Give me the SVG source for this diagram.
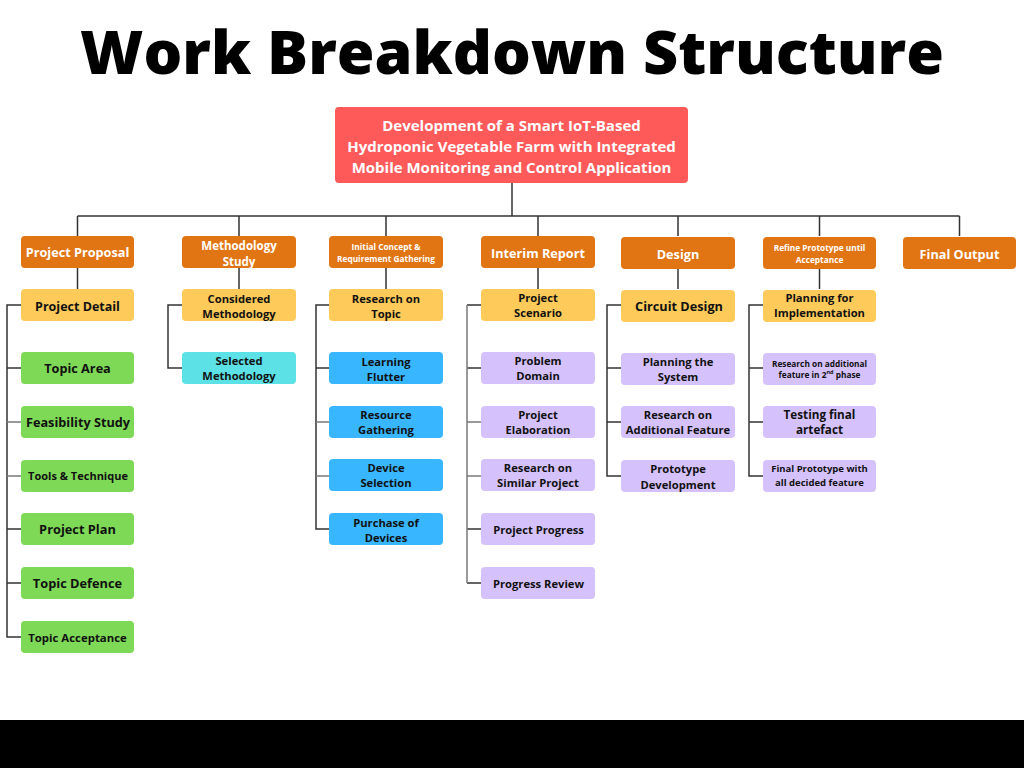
<svg xmlns="http://www.w3.org/2000/svg" width="1024" height="768" viewBox="0 0 1024 768">
<style>
.t{font-family:"Open Sans","Liberation Sans",sans-serif;font-weight:700;text-anchor:middle;dominant-baseline:central}
.w{fill:#ffffff}
.k{fill:#111111}
.or{fill:#e27513}
.ye{fill:#fecb5a}
.gr{fill:#7ed957}
.cy{fill:#5ce1e6}
.bl{fill:#38b6ff}
.lv{fill:#d5c2fc}
.c{fill:none;stroke:#333333;stroke-width:1.5}
.g{fill:none;stroke:#7a7a7a;stroke-width:1.5}
</style>
<rect x="0" y="0" width="1024" height="768" fill="#ffffff"/>
<text x="512" y="50" class="t" style="font-size:61px;font-weight:800;fill:#000">Work Breakdown Structure</text>
<rect x="0" y="720" width="1024" height="48" fill="#000000"/>

<g id="connectors">
<path class="c" d="M512 183V216M77.5 216H959.5M77.5 216V236M239 216V236M386 216V236M538 216V236M678 216V236M819.5 216V236M959.5 216V236"/>
<path class="c" d="M77.5 268V289M239 268V289M386 268V289M538 268V289M678 268V289M819.5 268V289"/>
<path class="c" d="M21 305H7V637H21M7 368H21M7 529H21M7 583H21"/>
<path class="g" d="M7 422H21M7 476H21"/>
<path class="c" d="M182 305H168V368H182"/>
<path class="c" d="M329 305H316V529H329M316 368H329"/>
<path class="g" d="M316 422H329M316 476H329"/>
<path class="c" d="M481 305H467M467 583H481M467 368H481M467 529H481"/>
<path class="g" d="M467 305V583M467 422H481M467 476H481"/>
<path class="c" d="M621 305H607V476H621M607 368H621M607 422H621"/>
<path class="c" d="M763 305H749V476H763M749 368H763M749 422H763"/>
</g>

<g id="root">
<rect x="335" y="107" width="353" height="76" rx="4" fill="#ff5a5a"/>
<text class="t w" x="511.5" y="125" style="font-size:15px">Development of a Smart IoT-Based</text>
<text class="t w" x="511.5" y="146" style="font-size:15px">Hydroponic Vegetable Farm with Integrated</text>
<text class="t w" x="511.5" y="167" style="font-size:15px">Mobile Monitoring and Control Application</text>
</g>

<g id="project-proposal">
<rect class="or" x="21" y="236" width="113" height="32" rx="4"/>
<text class="t w" x="77.5" y="252" style="font-size:12.7px">Project Proposal</text>
</g>
<g id="methodology-study">
<rect class="or" x="182" y="236" width="114" height="32" rx="4"/>
<text class="t w" x="239" y="245" style="font-size:11.5px">Methodology</text>
<text class="t w" x="239" y="261" style="font-size:11.5px">Study</text>
</g>
<g id="initial-concept">
<rect class="or" x="329" y="236" width="114" height="32" rx="4"/>
<text class="t w" x="386" y="246" style="font-size:8.3px">Initial Concept &amp;</text>
<text class="t w" x="386" y="258" style="font-size:8.3px">Requirement Gathering</text>
</g>
<g id="interim-report">
<rect class="or" x="481" y="236" width="114" height="32" rx="4"/>
<text class="t w" x="538" y="253" style="font-size:12.7px">Interim Report</text>
</g>
<g id="design">
<rect class="or" x="621" y="237" width="114" height="32" rx="4"/>
<text class="t w" x="678" y="254" style="font-size:12.7px">Design</text>
</g>
<g id="refine-prototype">
<rect class="or" x="763" y="237" width="113" height="32" rx="4"/>
<text class="t w" x="819.5" y="247" style="font-size:8.3px">Refine Prototype until</text>
<text class="t w" x="819.5" y="259" style="font-size:8.3px">Acceptance</text>
</g>
<g id="final-output">
<rect class="or" x="903" y="237" width="113" height="32" rx="4"/>
<text class="t w" x="959.5" y="254" style="font-size:12.7px">Final Output</text>
</g>

<g id="project-detail">
<rect class="ye" x="21" y="289" width="113" height="32" rx="4"/>
<text class="t k" x="77.5" y="306" style="font-size:12.5px">Project Detail</text>
</g>
<g id="topic-area">
<rect class="gr" x="21" y="352" width="113" height="32" rx="4"/>
<text class="t k" x="77.5" y="368" style="font-size:12.7px">Topic Area</text>
</g>
<g id="feasibility-study">
<rect class="gr" x="21" y="406" width="113" height="32" rx="4"/>
<text class="t k" x="78" y="422" style="font-size:12.7px">Feasibility Study</text>
</g>
<g id="tools-technique">
<rect class="gr" x="21" y="460" width="113" height="32" rx="4"/>
<text class="t k" x="78" y="475" style="font-size:11px">Tools &amp; Technique</text>
</g>
<g id="project-plan">
<rect class="gr" x="21" y="513" width="113" height="32" rx="4"/>
<text class="t k" x="77.5" y="529" style="font-size:12.8px">Project Plan</text>
</g>
<g id="topic-defence">
<rect class="gr" x="21" y="567" width="113" height="32" rx="4"/>
<text class="t k" x="77.5" y="583" style="font-size:12.8px">Topic Defence</text>
</g>
<g id="topic-acceptance">
<rect class="gr" x="21" y="621" width="113" height="32" rx="4"/>
<text class="t k" x="77.5" y="637" style="font-size:11.4px">Topic Acceptance</text>
</g>

<g id="considered-methodology">
<rect class="ye" x="182" y="289" width="114" height="32" rx="4"/>
<text class="t k" x="239" y="298" style="font-size:11.2px">Considered</text>
<text class="t k" x="239" y="313" style="font-size:11.2px">Methodology</text>
</g>
<g id="selected-methodology">
<rect class="cy" x="182" y="352" width="114" height="32" rx="4"/>
<text class="t k" x="239" y="360" style="font-size:11.2px">Selected</text>
<text class="t k" x="239" y="375" style="font-size:11.2px">Methodology</text>
</g>

<g id="research-on-topic">
<rect class="ye" x="329" y="289" width="114" height="32" rx="4"/>
<text class="t k" x="386" y="298" style="font-size:11.2px">Research on</text>
<text class="t k" x="386" y="313" style="font-size:11.2px">Topic</text>
</g>
<g id="learning-flutter">
<rect class="bl" x="329" y="352" width="114" height="32" rx="4"/>
<text class="t k" x="386" y="361" style="font-size:11.2px">Learning</text>
<text class="t k" x="386" y="376" style="font-size:11.2px">Flutter</text>
</g>
<g id="resource-gathering">
<rect class="bl" x="329" y="406" width="114" height="32" rx="4"/>
<text class="t k" x="386" y="414" style="font-size:11.2px">Resource</text>
<text class="t k" x="386" y="429" style="font-size:11.2px">Gathering</text>
</g>
<g id="device-selection">
<rect class="bl" x="329" y="459" width="114" height="32" rx="4"/>
<text class="t k" x="386" y="467" style="font-size:11.2px">Device</text>
<text class="t k" x="386" y="482" style="font-size:11.2px">Selection</text>
</g>
<g id="purchase-devices">
<rect class="bl" x="329" y="513" width="114" height="32" rx="4"/>
<text class="t k" x="386" y="522" style="font-size:11.2px">Purchase of</text>
<text class="t k" x="386" y="537" style="font-size:11.2px">Devices</text>
</g>

<g id="project-scenario">
<rect class="ye" x="481" y="289" width="114" height="32" rx="4"/>
<text class="t k" x="538" y="297" style="font-size:11.2px">Project</text>
<text class="t k" x="538" y="312" style="font-size:11.2px">Scenario</text>
</g>
<g id="problem-domain">
<rect class="lv" x="481" y="352" width="114" height="32" rx="4"/>
<text class="t k" x="538" y="360" style="font-size:11.2px">Problem</text>
<text class="t k" x="538" y="375" style="font-size:11.2px">Domain</text>
</g>
<g id="project-elaboration">
<rect class="lv" x="481" y="406" width="114" height="32" rx="4"/>
<text class="t k" x="538" y="414" style="font-size:11.2px">Project</text>
<text class="t k" x="538" y="429" style="font-size:11.2px">Elaboration</text>
</g>
<g id="research-similar">
<rect class="lv" x="481" y="459" width="114" height="32" rx="4"/>
<text class="t k" x="538" y="467" style="font-size:11.2px">Research on</text>
<text class="t k" x="538" y="482" style="font-size:11.2px">Similar Project</text>
</g>
<g id="project-progress">
<rect class="lv" x="481" y="513" width="114" height="32" rx="4"/>
<text class="t k" x="538.5" y="529" style="font-size:11.2px">Project Progress</text>
</g>
<g id="progress-review">
<rect class="lv" x="481" y="567" width="114" height="32" rx="4"/>
<text class="t k" x="538.5" y="583" style="font-size:11.2px">Progress Review</text>
</g>

<g id="circuit-design">
<rect class="ye" x="621" y="290" width="114" height="32" rx="4"/>
<text class="t k" x="679" y="306" style="font-size:12.7px">Circuit Design</text>
</g>
<g id="planning-system">
<rect class="lv" x="621" y="353" width="114" height="32" rx="4"/>
<text class="t k" x="678" y="361" style="font-size:11.2px">Planning the</text>
<text class="t k" x="678" y="376" style="font-size:11.2px">System</text>
</g>
<g id="research-additional">
<rect class="lv" x="621" y="406" width="114" height="32" rx="4"/>
<text class="t k" x="678" y="414" style="font-size:11.2px">Research on</text>
<text class="t k" x="678" y="429" style="font-size:11.2px">Additional Feature</text>
</g>
<g id="prototype-development">
<rect class="lv" x="621" y="460" width="114" height="32" rx="4"/>
<text class="t k" x="678" y="468" style="font-size:11.2px">Prototype</text>
<text class="t k" x="678" y="484" style="font-size:11.2px">Development</text>
</g>

<g id="planning-implementation">
<rect class="ye" x="763" y="290" width="113" height="32" rx="4"/>
<text class="t k" x="819.5" y="297" style="font-size:11.2px">Planning for</text>
<text class="t k" x="819.5" y="312" style="font-size:11.2px">Implementation</text>
</g>
<g id="research-2nd-phase">
<rect class="lv" x="763" y="353" width="113" height="32" rx="4"/>
<text class="t k" x="819.5" y="363" style="font-size:8.3px">Research on additional</text>
<text class="t k" x="819.5" y="374" style="font-size:8.3px">feature in 2<tspan dy="-2.5" style="font-size:5.5px">nd</tspan><tspan dy="2.5"> phase</tspan></text>
</g>
<g id="testing-final">
<rect class="lv" x="763" y="406" width="113" height="32" rx="4"/>
<text class="t k" x="819.5" y="414" style="font-size:11.7px">Testing final</text>
<text class="t k" x="819.5" y="429" style="font-size:11.7px">artefact</text>
</g>
<g id="final-prototype">
<rect class="lv" x="763" y="460" width="113" height="32" rx="4"/>
<text class="t k" x="819.5" y="468" style="font-size:9.5px">Final Prototype with</text>
<text class="t k" x="819.5" y="482" style="font-size:9.5px">all decided feature</text>
</g>
</svg>
